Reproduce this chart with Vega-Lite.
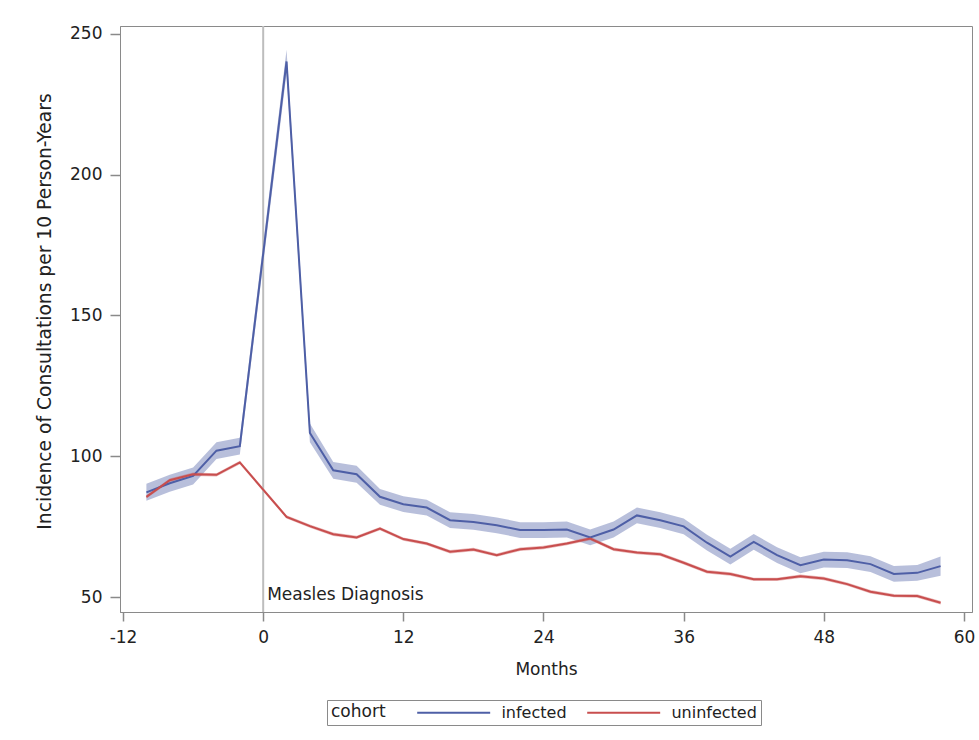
{
  "$schema": "https://vega.github.io/schema/vega-lite/v6.json",
  "autosize": "none",
  "width": 852,
  "height": 586,
  "padding": {"left": 120, "top": 26, "right": 7, "bottom": 128},
  "background": "white",
  "config": {
    "font": "DejaVu Sans",
    "view": {"stroke": "#8a8a8a", "strokeWidth": 1},
    "axis": {
      "domain": true, "domainColor": "#8a8a8a", "domainWidth": 1,
      "tickColor": "#8a8a8a", "tickWidth": 1.5,
      "labelFont": "DejaVu Sans", "labelFontSize": 17, "labelColor": "#222",
      "titleFont": "DejaVu Sans", "titleFontSize": 17, "titleFontWeight": "normal", "titleColor": "#222",
      "grid": false
    }
  },
  "datasets": {
    "series": [
      {"month": -10, "cohort": "infected", "value": 87.2, "lower": 84.2, "upper": 90.2},
      {"month": -8, "cohort": "infected", "value": 90.4, "lower": 87.4, "upper": 93.4},
      {"month": -6, "cohort": "infected", "value": 93.0, "lower": 90.0, "upper": 96.0},
      {"month": -4, "cohort": "infected", "value": 102.0, "lower": 99.0, "upper": 105.0},
      {"month": -2, "cohort": "infected", "value": 103.6, "lower": 100.6, "upper": 106.6},
      {"month": 2, "cohort": "infected", "value": 240.2, "lower": 236.0, "upper": 244.4},
      {"month": 4, "cohort": "infected", "value": 108.3, "lower": 105.0, "upper": 111.6},
      {"month": 6, "cohort": "infected", "value": 95.0, "lower": 92.0, "upper": 98.0},
      {"month": 8, "cohort": "infected", "value": 93.6, "lower": 90.6, "upper": 96.6},
      {"month": 10, "cohort": "infected", "value": 85.6, "lower": 82.8, "upper": 88.4},
      {"month": 12, "cohort": "infected", "value": 83.0, "lower": 80.2, "upper": 85.8},
      {"month": 14, "cohort": "infected", "value": 81.8, "lower": 79.0, "upper": 84.6},
      {"month": 16, "cohort": "infected", "value": 77.3, "lower": 74.5, "upper": 80.1},
      {"month": 18, "cohort": "infected", "value": 76.7, "lower": 73.9, "upper": 79.5},
      {"month": 20, "cohort": "infected", "value": 75.5, "lower": 72.7, "upper": 78.3},
      {"month": 22, "cohort": "infected", "value": 73.8, "lower": 71.0, "upper": 76.6},
      {"month": 24, "cohort": "infected", "value": 73.8, "lower": 71.0, "upper": 76.6},
      {"month": 26, "cohort": "infected", "value": 74.0, "lower": 71.2, "upper": 76.8},
      {"month": 28, "cohort": "infected", "value": 71.2, "lower": 68.4, "upper": 74.0},
      {"month": 30, "cohort": "infected", "value": 74.0, "lower": 71.2, "upper": 76.8},
      {"month": 32, "cohort": "infected", "value": 79.0, "lower": 76.2, "upper": 81.8},
      {"month": 34, "cohort": "infected", "value": 77.3, "lower": 74.5, "upper": 80.1},
      {"month": 36, "cohort": "infected", "value": 75.1, "lower": 72.3, "upper": 77.9},
      {"month": 38, "cohort": "infected", "value": 69.3, "lower": 66.5, "upper": 72.1},
      {"month": 40, "cohort": "infected", "value": 64.4, "lower": 61.6, "upper": 67.2},
      {"month": 42, "cohort": "infected", "value": 69.6, "lower": 66.8, "upper": 72.4},
      {"month": 44, "cohort": "infected", "value": 64.9, "lower": 62.1, "upper": 67.7},
      {"month": 46, "cohort": "infected", "value": 61.3, "lower": 58.5, "upper": 64.1},
      {"month": 48, "cohort": "infected", "value": 63.3, "lower": 60.5, "upper": 66.1},
      {"month": 50, "cohort": "infected", "value": 63.1, "lower": 60.3, "upper": 65.9},
      {"month": 52, "cohort": "infected", "value": 61.7, "lower": 58.9, "upper": 64.5},
      {"month": 54, "cohort": "infected", "value": 58.2, "lower": 55.4, "upper": 61.0},
      {"month": 56, "cohort": "infected", "value": 58.6, "lower": 55.8, "upper": 61.4},
      {"month": 58, "cohort": "infected", "value": 61.0, "lower": 57.6, "upper": 64.4},
      {"month": -10, "cohort": "uninfected", "value": 85.6, "lower": 85.0, "upper": 86.2},
      {"month": -8, "cohort": "uninfected", "value": 91.5, "lower": 90.9, "upper": 92.1},
      {"month": -6, "cohort": "uninfected", "value": 93.6, "lower": 93.0, "upper": 94.2},
      {"month": -4, "cohort": "uninfected", "value": 93.4, "lower": 92.8, "upper": 94.0},
      {"month": -2, "cohort": "uninfected", "value": 97.8, "lower": 97.2, "upper": 98.4},
      {"month": 2, "cohort": "uninfected", "value": 78.5, "lower": 77.9, "upper": 79.1},
      {"month": 4, "cohort": "uninfected", "value": 75.2, "lower": 74.6, "upper": 75.8},
      {"month": 6, "cohort": "uninfected", "value": 72.3, "lower": 71.7, "upper": 72.9},
      {"month": 8, "cohort": "uninfected", "value": 71.2, "lower": 70.6, "upper": 71.8},
      {"month": 10, "cohort": "uninfected", "value": 74.3, "lower": 73.7, "upper": 74.9},
      {"month": 12, "cohort": "uninfected", "value": 70.6, "lower": 70.0, "upper": 71.2},
      {"month": 14, "cohort": "uninfected", "value": 69.0, "lower": 68.4, "upper": 69.6},
      {"month": 16, "cohort": "uninfected", "value": 66.1, "lower": 65.5, "upper": 66.7},
      {"month": 18, "cohort": "uninfected", "value": 66.9, "lower": 66.3, "upper": 67.5},
      {"month": 20, "cohort": "uninfected", "value": 64.9, "lower": 64.3, "upper": 65.5},
      {"month": 22, "cohort": "uninfected", "value": 67.0, "lower": 66.4, "upper": 67.6},
      {"month": 24, "cohort": "uninfected", "value": 67.6, "lower": 67.0, "upper": 68.2},
      {"month": 26, "cohort": "uninfected", "value": 69.0, "lower": 68.4, "upper": 69.6},
      {"month": 28, "cohort": "uninfected", "value": 70.8, "lower": 70.2, "upper": 71.4},
      {"month": 30, "cohort": "uninfected", "value": 67.0, "lower": 66.4, "upper": 67.6},
      {"month": 32, "cohort": "uninfected", "value": 65.8, "lower": 65.2, "upper": 66.4},
      {"month": 34, "cohort": "uninfected", "value": 65.2, "lower": 64.6, "upper": 65.8},
      {"month": 36, "cohort": "uninfected", "value": 62.2, "lower": 61.6, "upper": 62.8},
      {"month": 38, "cohort": "uninfected", "value": 59.0, "lower": 58.4, "upper": 59.6},
      {"month": 40, "cohort": "uninfected", "value": 58.2, "lower": 57.6, "upper": 58.8},
      {"month": 42, "cohort": "uninfected", "value": 56.3, "lower": 55.7, "upper": 56.9},
      {"month": 44, "cohort": "uninfected", "value": 56.3, "lower": 55.7, "upper": 56.9},
      {"month": 46, "cohort": "uninfected", "value": 57.4, "lower": 56.8, "upper": 58.0},
      {"month": 48, "cohort": "uninfected", "value": 56.6, "lower": 56.0, "upper": 57.2},
      {"month": 50, "cohort": "uninfected", "value": 54.6, "lower": 54.0, "upper": 55.2},
      {"month": 52, "cohort": "uninfected", "value": 51.9, "lower": 51.3, "upper": 52.5},
      {"month": 54, "cohort": "uninfected", "value": 50.5, "lower": 49.9, "upper": 51.1},
      {"month": 56, "cohort": "uninfected", "value": 50.4, "lower": 49.8, "upper": 51.0},
      {"month": 58, "cohort": "uninfected", "value": 48.0, "lower": 47.4, "upper": 48.6}
    ],
    "annot": [{"month": 0, "label": "Measles Diagnosis"}]
  },
  "data": {"name": "series"},
  "encoding": {
    "x": {
      "field": "month", "type": "quantitative",
      "scale": {"domain": [-12.26, 60.69], "nice": false, "zero": false},
      "axis": {"values": [-12, 0, 12, 24, 36, 48, 60], "labelExpr": "replace(datum.label, '−', '-')", "title": "Months", "titlePadding": 16, "labelPadding": 8, "tickSize": 9}
    },
    "y": {
      "type": "quantitative",
      "scale": {"domain": [44.7, 252.8], "nice": false, "zero": false},
      "axis": {"values": [50, 100, 150, 200, 250], "title": "Incidence of Consultations per 10 Person-Years", "titleFontSize": 18.7, "titlePadding": 15, "titleY": 285, "labelPadding": 8, "tickSize": 10}
    },
    "color": {
      "field": "cohort", "type": "nominal",
      "scale": {"domain": ["infected", "uninfected"], "range": ["#4e5fa6", "#c84e4e"]},
      "legend": {
        "orient": "none", "legendX": 207, "legendY": 674,
        "direction": "horizontal", "title": "cohort", "titleOrient": "left",
        "titleFontSize": 17, "titleFontWeight": "normal", "titleColor": "#222", "titlePadding": 30,
        "labelFontSize": 16, "labelColor": "#222", "labelOffset": 68.4,
        "symbolType": "M-1,0H9", "symbolSize": 213, "symbolStrokeWidth": 2, "symbolOpacity": 1,
        "columnPadding": 16, "strokeColor": "#8a8a8a", "padding": 4, "fillColor": "white",
        "encode": {"symbols": {"update": {"stroke": {"scale": "color", "field": "value"}, "strokeWidth": {"value": 2}, "opacity": {"value": 1}}}}
      }
    }
  },
  "layer": [
    {
      "mark": {"type": "area", "opacity": 0.4},
      "encoding": {
        "y": {"field": "lower", "type": "quantitative"},
        "y2": {"field": "upper"}
      }
    },
    {
      "data": {"name": "annot"},
      "mark": {"type": "rule", "strokeWidth": 2},
      "encoding": {"y": null, "color": {"value": "#bdbdbd"}}
    },
    {
      "data": {"name": "annot"},
      "mark": {"type": "text", "align": "left", "baseline": "middle", "dx": 4, "fontSize": 17, "font": "DejaVu Sans"},
      "encoding": {"y": {"datum": 50.9}, "text": {"field": "label"}, "color": {"value": "#222"}}
    },
    {
      "mark": {"type": "line", "strokeWidth": 2},
      "encoding": {
        "y": {"field": "value", "type": "quantitative"}
      }
    }
  ]
}
